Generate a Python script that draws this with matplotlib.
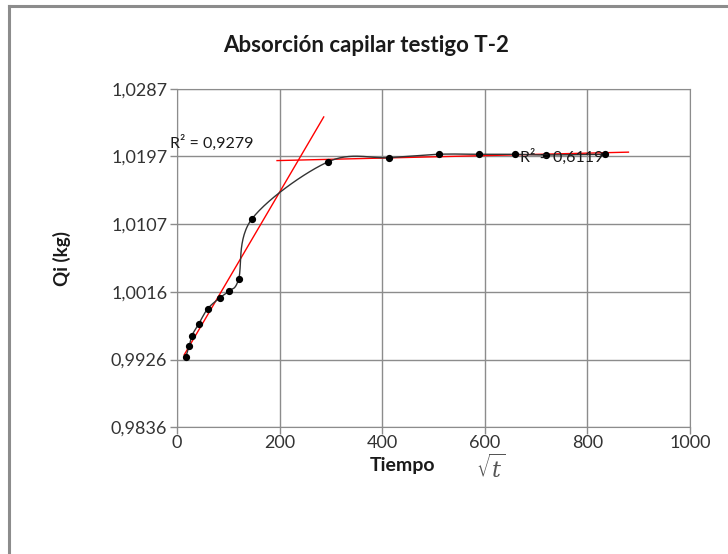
import numpy as np
import matplotlib
matplotlib.use("Agg")
import matplotlib.pyplot as plt
from matplotlib.ticker import FuncFormatter
from matplotlib.lines import Line2D

plt.rcParams['font.family'] = ['Lato', 'DejaVu Sans']
plt.rcParams['mathtext.fontset'] = 'dejavuserif'

# ---- data ----
tiempo = [17, 24, 29, 42, 60, 84, 102, 120, 146, 295, 414, 510, 588, 658, 719, 835]
qi = [0.99290, 0.99445, 0.99579, 0.99731, 0.99939, 1.00086, 1.00179, 1.00331,
      1.01136, 1.01900, 1.01954, 1.01999, 1.01999, 1.01999, 1.01990, 1.01999]
n_first = 9          # points used by the first trend line
y_ticks = [0.9836, 0.9926, 1.0016, 1.0107, 1.0197, 1.0287]
x_ticks = [0, 200, 400, 600, 800, 1000]

x = np.array(tiempo, float)
y = np.array(qi, float)

def catmull_rom(px, py, n=30):
    xs, ys = [], []
    P = np.column_stack([px, py])
    for i in range(len(P) - 1):
        p0 = P[i - 1] if i > 0 else P[i]
        p1 = P[i]
        p2 = P[i + 1]
        p3 = P[i + 2] if i + 2 < len(P) else P[i + 1]
        c1 = p1 + (p2 - p0) / 6.0
        c2 = p2 - (p3 - p1) / 6.0
        t = np.linspace(0, 1, n)[:, None]
        B = ((1 - t) ** 3) * p1 + 3 * ((1 - t) ** 2) * t * c1 + 3 * (1 - t) * t ** 2 * c2 + t ** 3 * p2
        xs.append(B[:, 0]); ys.append(B[:, 1])
    return np.concatenate(xs), np.concatenate(ys)

fig = plt.figure(figsize=(7.28, 5.54), dpi=100)
ax = fig.add_axes([177/728, 1-427/554, (690-177)/728, (427-89)/554])

# chart-area border (left & top visible)
fig.add_artist(Line2D([9/728, 9/728], [0, 1-6/554], transform=fig.transFigure, color='#8c8c8c', lw=2.2))
fig.add_artist(Line2D([9/728, 1], [1-6/554, 1-6/554], transform=fig.transFigure, color='#8c8c8c', lw=2.2))

# smoothed connecting line
sx, sy = catmull_rom(x, y)
ax.plot(sx, sy, color='#333333', lw=1.0, zorder=3)
ax.plot(x, y, 'o', color='black', ms=4.2, zorder=4)

# trend line 1 (linear, first segment)
c1 = np.polyfit(x[:n_first], y[:n_first], 1)
tx1 = np.linspace(x[0] - 3, x[n_first - 1] + 140, 10)
ax.plot(tx1, np.polyval(c1, tx1), color='red', lw=1.0, zorder=2)

# trend line 2 (linear, plateau)
c2 = np.polyfit(x[n_first:], y[n_first:], 1)
tx2 = np.linspace(x[n_first] - 100, x[-1] + 45, 10)
ax.plot(tx2, np.polyval(c2, tx2), color='red', lw=1.0, zorder=2)

ax.text(-14, 1.0215, "R² = 0,9279", fontsize=11.5, ha='left', va='center', zorder=6, color='#1a1a1a')
ax.text(669, 1.0197, "R² = 0,6119", fontsize=11.5, ha='left', va='center', zorder=6, color='#1a1a1a')

ax.set_xlim(0, 1000)
ax.set_ylim(y_ticks[0], y_ticks[-1])
ax.set_xticks(x_ticks)
ax.set_yticks(y_ticks)
ax.yaxis.set_major_formatter(FuncFormatter(lambda v, p: f"{v:.4f}".replace('.', ',')))
ax.grid(True, color='#8c8c8c', lw=1.0)
ax.set_axisbelow(True)
for s in ax.spines.values():
    s.set_color('#8c8c8c')
ax.tick_params(axis='both', colors='#8c8c8c', labelcolor='#333333', labelsize=13, length=5, width=1)
ax.tick_params(axis='x', pad=1)
ax.tick_params(axis='y', pad=2)

fig.text(366/728, 1-45/554, "Absorción capilar testigo T-2", ha='center', va='center',
         fontsize=16, fontweight='bold', color='#1a1a1a')
fig.text(62/728, 1-258/554, "Qi (kg)", rotation=90, ha='center', va='center',
         fontsize=13.5, fontweight='bold', color='#1a1a1a')
fig.text(403/728, 1-466/554, "Tiempo", ha='center', va='center',
         fontsize=14, fontweight='bold', color='#1a1a1a')
fig.text(476/728, 1-468/554, r"$\sqrt{t}$", ha='left', va='center',
         fontsize=16, color='#555555')

fig.savefig("out.png", dpi=100, facecolor='white')
